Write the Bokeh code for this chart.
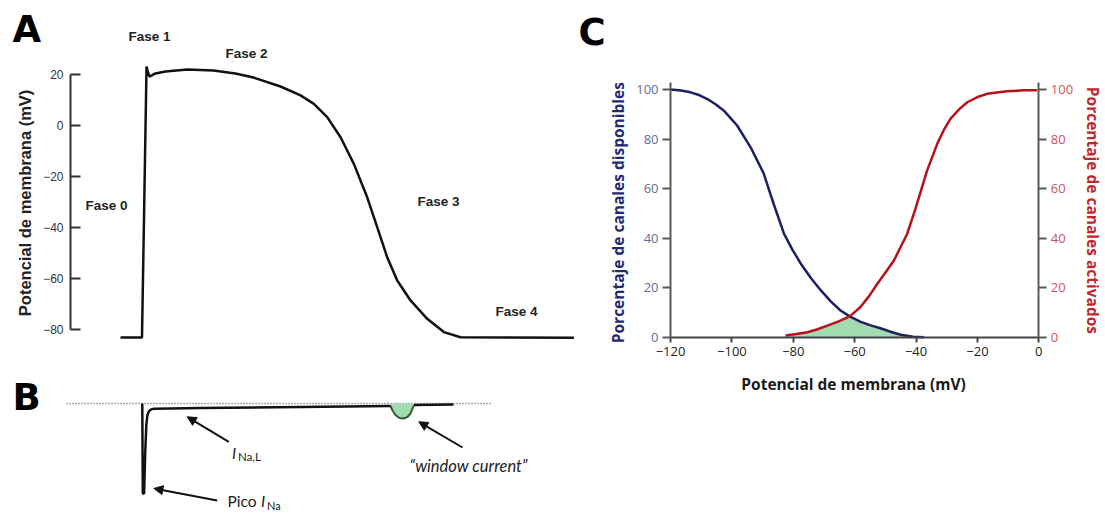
import math
import numpy as np
from bokeh.plotting import figure
from bokeh.models import Range1d, LinearAxis, FixedTicker, Label, Arrow, NormalHead
from bokeh.layouts import row, column
from bokeh.embed import file_html
from bokeh.resources import INLINE

# ---------------- Panel A: action potential ----------------
ap_time_ms = [-16.1, 0.0, 3.4, 4.5, 5.6, 10.1, 17.6, 34.1, 53.6, 70.1, 83.6, 103.9, 118.9,
              128.9, 138.9, 148.9, 158.9, 168.9, 176.4, 183.9, 191.4, 201.4, 213.9, 226.4,
              238.9, 323.9]
ap_mv = [-83.0, -83.0, 23.1, 20.8, 19.2, 20.4, 21.2, 22.0, 21.6, 20.4, 18.8, 15.3, 11.8,
         8.5, 3.3, -4.6, -15.0, -28.1, -39.8, -51.6, -60.7, -68.5, -75.7, -80.9,
         -82.9, -83.1]
a_ticks = [-80, -60, -40, -20, 0, 20]
phase_labels = ["Fase 0", "Fase 1", "Fase 2", "Fase 3", "Fase 4"]
phase_t = [-26.6, 5.6, 78.4, 222.4, 280.9]
phase_mv = [-31.51, 34.81, 28.11, -29.67, -72.91]

# ---------------- Panel B: sodium current ----------------
ina_time_ms = [0.2, 0.6, 1.6, 2.4, 3.2, 4.0, 5.2, 7.0, 9.0, 44.0, 119.0, 186.4,
               187.9, 190.1, 193.1, 196.1, 199.1, 201.4, 202.9, 204.0, 233.6]
ina_current = [0.0, -1.0, -1.0, -0.55, -0.25, -0.13, -0.085, -0.065, -0.057, -0.05, -0.039, -0.028,
               -0.078, -0.128, -0.161, -0.167, -0.15, -0.111, -0.056, -0.017, -0.011]
window_time_ms = [186.4, 187.9, 190.1, 193.1, 196.1, 199.1, 201.4, 202.9, 204.0]
window_current = [-0.028, -0.078, -0.128, -0.161, -0.167, -0.15, -0.111, -0.056, -0.017]
baseline_t = [-56.6, 262.9]

# ---------------- Panel C: availability / activation ----------------
blue_v = [-120, -116.5, -113.5, -110.5, -108, -105.2, -102.6, -98.3, -93.9, -89.6, -87.9, -86.3,
          -83, -80.2, -77.5, -74.2, -71, -67.8, -64.6, -61.5, -58, -54.8, -51.6, -48.3, -45,
          -41, -37.5]
blue_pct = [100, 99.6, 98.9, 97.7, 96.2, 94.0, 91.5, 85.5, 76.7, 66, 59.5, 53.5,
            41.7, 35.2, 29.6, 23.8, 18.9, 14.5, 10.8, 8.3, 6.2, 4.8, 3.6, 2.2, 1.0,
            0.2, 0]
red_v = [-82.5, -79, -75.4, -72.1, -68.9, -65.2, -61.5, -58.1, -55.3, -52.6, -49.9, -47.2,
         -42.9, -40.2, -36.4, -33.1, -30.9, -28.8, -26.0, -23.3, -20.0, -16.8, -10.3, -5.0, -0.5]
red_pct = [0.7, 1.3, 2.0, 3.2, 4.7, 6.4, 8.5, 12.2, 16.6, 21.6, 26.2, 31.0,
           41.7, 51.8, 67.3, 78.1, 83.8, 88.2, 92.0, 94.9, 97.0, 98.3, 99.3, 99.7, 99.7]
c_xticks = [-120, -100, -80, -60, -40, -20, 0]
c_yticks = [0, 20, 40, 60, 80, 100]

SANS = "Liberation Sans"
HUM = "Open Sans"
LATO = "Lato"


def make_fig(w, h, xr, yr):
    p = figure(width=w, height=h, x_range=Range1d(*xr), y_range=Range1d(*yr),
               output_backend="svg", toolbar_location=None, x_axis_location=None,
               y_axis_location=None, min_border=0, min_border_left=0, min_border_right=0,
               min_border_top=0, min_border_bottom=0)
    p.grid.visible = False
    p.outline_line_color = None
    p.background_fill_color = "white"
    p.border_fill_color = "white"
    return p


def lab(p, x, y, text, font, size, style="normal", color="#222222", align="left",
        baseline="middle", angle=0.0):
    p.add_layout(Label(x=x, y=y, text=text, text_font=font, text_font_size=size,
                       text_font_style=style, text_color=color, text_align=align,
                       text_baseline=baseline, angle=angle))


# ---------- Figure A ----------
pa = make_fig(578, 360, (-106.125, 327.375), (-92.03, 48.985))
ya = LinearAxis(ticker=FixedTicker(ticks=a_ticks), fixed_location=-53.625, bounds=(-80, 20))
pa.add_layout(ya, "left")
ya.major_tick_in = 10
ya.major_tick_out = 0
ya.minor_tick_line_color = None
ya.axis_line_width = 2
ya.axis_line_color = "#333333"
ya.major_tick_line_width = 2
ya.major_tick_line_color = "#333333"
ya.major_label_text_font = SANS
ya.major_label_text_font_size = "12px"
ya.major_label_text_color = "#333333"
ya.major_label_standoff = 7
pa.line(ap_time_ms, ap_mv, line_color="#111111", line_width=2.5)

lab(pa, -87.4, -30.3, "Potencial de membrana (mV)", SANS, "16.5px", "bold",
    align="center", angle=math.pi / 2)
lab(pa, -97.1, 37.63, "A", "DejaVu Sans", "37px", "bold", color="#000000")
for text, t, mv in zip(phase_labels, phase_t, phase_mv):
    lab(pa, t, mv, text, SANS, "13.5px", "bold", align="center")

# ---------- Figure B ----------
pb = make_fig(578, 153, (-106.125, 327.375), (-1.2222, 0.4778))
pb.line(baseline_t, [0, 0], line_color="#555555", line_width=1.3, line_dash="1 2")
pb.varea(x=window_time_ms, y1=window_current, y2=[0] * len(window_time_ms),
         fill_color="#a3dbb0")
pb.line(window_time_ms, window_current, line_color="#2e5e36", line_width=2)
pb.line(ina_time_ms[:12], ina_current[:12], line_color="#111111", line_width=2.5)
pb.line(ina_time_ms[19:], ina_current[19:], line_color="#111111", line_width=2.5)

for (xs, ys, xe, ye) in [(65.1, -0.426, 33.9, -0.148), (240.4, -0.489, 207.6, -0.203),
                         (56.4, -1.078, 8.9, -0.944)]:
    pb.add_layout(Arrow(end=NormalHead(size=9, fill_color="#111111", line_color="#111111"),
                        x_start=xs, y_start=ys, x_end=xe, y_end=ye,
                        line_width=2, line_color="#111111"))

lab(pb, -97.1, 0.0722, "B", "DejaVu Sans", "37px", "bold", color="#000000")
lab(pb, 67.5, -0.55, "I", LATO, "15.5px", "italic")
lab(pb, 72.0, -0.589, "Na,L", LATO, "11.5px")
lab(pb, 200.6, -0.689, "\u201cwindow current\u201d", LATO, "16.5px", "italic")
lab(pb, 64.1, -1.078, "Pico", LATO, "15.5px")
lab(pb, 89.3, -1.078, "I", LATO, "15.5px", "italic")
lab(pb, 93.8, -1.128, "Na", LATO, "11px")

# ---------- Figure C ----------
pc = make_fig(527, 513, (-149.98, 21.73), (-71.2, 135.99))

v_grid = np.linspace(-82.5, -37.5, 181)
fill_top = np.minimum(np.interp(v_grid, blue_v, blue_pct), np.interp(v_grid, red_v, red_pct))
pc.varea(x=v_grid, y1=np.zeros_like(v_grid), y2=fill_top, fill_color="#a3dbb0")
pc.line(blue_v, blue_pct, line_color="#1b1f63", line_width=2.5)
pc.line(red_v, red_pct, line_color="#b5121b", line_width=2.5)

axc = "#5a5a5a"
yl = LinearAxis(ticker=FixedTicker(ticks=c_yticks), fixed_location=-120, bounds=(0, 103))
yr = LinearAxis(ticker=FixedTicker(ticks=c_yticks), fixed_location=0, bounds=(0, 103))
pc.add_layout(yl, "left")
pc.add_layout(yr, "right")
for ax, col in [(yl, "#666a9c"), (yr, "#c8545f")]:
    ax.major_tick_in = 0
    ax.major_tick_out = 8
    ax.minor_tick_line_color = None
    ax.axis_line_width = 2
    ax.axis_line_color = axc
    ax.major_tick_line_width = 2
    ax.major_tick_line_color = axc
    ax.major_label_text_font = HUM
    ax.major_label_text_font_size = "13px"
    ax.major_label_text_color = col
    ax.major_label_standoff = 4

xb = LinearAxis(ticker=FixedTicker(ticks=c_xticks), fixed_location=0, bounds=(-120, 0))
pc.add_layout(xb, "below")
xb.major_tick_in = 0
xb.major_tick_out = 5
xb.minor_tick_line_color = None
xb.axis_line_width = 2
xb.axis_line_color = "#444444"
xb.major_tick_line_width = 2
xb.major_tick_line_color = "#444444"
xb.major_label_text_font = HUM
xb.major_label_text_font_size = "13px"
xb.major_label_text_color = "#222222"
xb.major_label_standoff = 5

lab(pc, -60.37, -18.9, "Potencial de membrana (mV)", HUM, "15.5px", "bold",
    color="#1a1a1a", align="center")
lab(pc, -137.27, 50.3, "Porcentaje de canales disponibles", HUM, "15.5px", "bold",
    color="#232a73", align="center", angle=math.pi / 2)
lab(pc, 17.66, 51.2, "Porcentaje de canales activados", HUM, "15.5px", "bold",
    color="#c1272d", align="center", angle=-math.pi / 2)
lab(pc, -149.98, 123.06, "C", "DejaVu Sans", "37px", "bold", color="#000000")

layout = row(column(pa, pb), pc)
open("out.html", "w").write(file_html(layout, INLINE))
